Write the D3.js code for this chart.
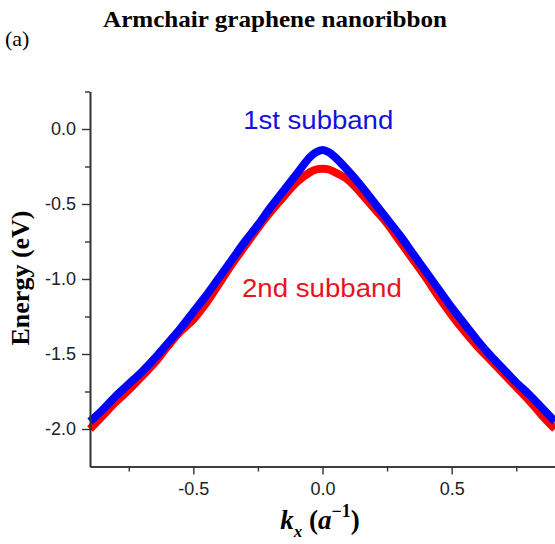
<!DOCTYPE html>
<html>
<head>
<meta charset="utf-8">
<script src="https://cdn.jsdelivr.net/npm/d3@7"></script>
<style>
  html, body { margin: 0; padding: 0; background: #fff; }
  svg { display: block; }
</style>
</head>
<body>
<svg id="chart" width="555" height="544"></svg>
<script>
// ---- data ----
const kValues = [-0.90,-0.85,-0.80,-0.75,-0.70,-0.65,-0.60,-0.55,-0.50,-0.45,-0.40,-0.35,-0.30,-0.25,-0.20,-0.15,-0.10,-0.05,-0.025,0.00,0.025,0.05,0.10,0.15,0.20,0.25,0.30,0.35,0.40,0.45,0.50,0.55,0.60,0.65,0.70,0.75,0.80,0.85,0.90];
const subband1 = [-1.95,-1.87,-1.78,-1.70,-1.62,-1.53,-1.43,-1.33,-1.22,-1.11,-0.99,-0.87,-0.75,-0.64,-0.52,-0.41,-0.30,-0.19,-0.155,-0.14,-0.155,-0.19,-0.28,-0.38,-0.49,-0.60,-0.71,-0.83,-0.95,-1.07,-1.19,-1.30,-1.41,-1.51,-1.60,-1.69,-1.77,-1.86,-1.95];
const subband2 = [-2.00,-1.91,-1.82,-1.74,-1.65,-1.56,-1.45,-1.35,-1.27,-1.16,-1.03,-0.90,-0.78,-0.66,-0.55,-0.45,-0.355,-0.29,-0.27,-0.265,-0.27,-0.29,-0.34,-0.43,-0.53,-0.63,-0.75,-0.87,-0.99,-1.12,-1.24,-1.35,-1.45,-1.54,-1.63,-1.72,-1.81,-1.91,-2.00];
const xMajorTicks = [-0.5, 0.0, 0.5];
const xMinorTicks = [-0.75, -0.25, 0.25, 0.75];
const yMajorTicks = [-2.0, -1.5, -1.0, -0.5, 0.0];
const yMinorTicks = [-1.75, -1.25, -0.75, -0.25, 0.25];
const seriesNames = ["1st subband", "2nd subband"];
const labelPos = [{k: -0.307, E: 0.0}, {k: -0.312, E: -1.118}];

// ---- drawing ----
const svg = d3.select("#chart");
const x = d3.scaleLinear().domain([-0.9, 0.9]).range([90, 555]);
const y = d3.scaleLinear().domain([-2.25, 0.25]).range([466.5, 91.5]);
const axisColor = "#333";
const fmt = d3.format(".1f");

// title & panel label
svg.append("text")
  .attr("x", 275).attr("y", 27)
  .attr("text-anchor", "middle")
  .attr("font-family", "Liberation Serif, Times New Roman, serif")
  .attr("font-weight", "bold").attr("font-size", 24)
  .attr("textLength", 344).attr("lengthAdjust", "spacingAndGlyphs")
  .attr("fill", "#000")
  .text("Armchair graphene nanoribbon");
svg.append("text")
  .attr("x", 5).attr("y", 46)
  .attr("font-family", "Liberation Serif, Times New Roman, serif")
  .attr("font-size", 22).attr("fill", "#000")
  .text("(a)");

// curves
const line = d3.line().x((d, i) => x(kValues[i])).y(d => y(d)).curve(d3.curveCatmullRom.alpha(0.5));
const colors = ["#0000ff", "#ff0000"];
const textColors = ["#1212dc", "#e8141c"];
const plot = svg.append("g");
[[subband2, 1], [subband1, 0]].forEach(([vals, idx]) => {
  plot.append("path")
    .datum(vals)
    .attr("d", line)
    .attr("fill", "none")
    .attr("stroke", colors[idx])
    .attr("stroke-width", 8)
    .attr("stroke-linejoin", "round")
    .attr("stroke-linecap", "butt");
});

// axes
const xAxis = svg.append("g").attr("transform", `translate(0,${y(-2.25)})`)
  .call(d3.axisBottom(x).tickValues(xMajorTicks).tickSize(8).tickPadding(8).tickFormat(fmt).tickSizeOuter(0));
const xMinor = svg.append("g").attr("transform", `translate(0,${y(-2.25)})`)
  .call(d3.axisBottom(x).tickValues(xMinorTicks).tickSize(5).tickFormat("").tickSizeOuter(0));
const yAxis = svg.append("g").attr("transform", `translate(${x(-0.9)},0)`)
  .call(d3.axisLeft(y).tickValues(yMajorTicks).tickSize(8).tickPadding(6).tickFormat(fmt).tickSizeOuter(0));
const yMinor = svg.append("g").attr("transform", `translate(${x(-0.9)},0)`)
  .call(d3.axisLeft(y).tickValues(yMinorTicks).tickSize(5).tickFormat("").tickSizeOuter(0));

[xAxis, xMinor, yAxis, yMinor].forEach(g => {
  g.select(".domain").attr("stroke", axisColor).attr("stroke-width", 1.6);
  g.selectAll(".tick line").attr("stroke", axisColor).attr("stroke-width", 1.4);
  g.selectAll(".tick text")
    .attr("font-family", "Liberation Sans, Arial, sans-serif")
    .attr("font-size", 18).attr("fill", "#222");
});
svg.selectAll(".tick text").text(function() { return d3.select(this).text().replace("\u2212", "-"); });

// series labels
seriesNames.forEach((name, i) => {
  svg.append("text")
    .attr("x", x(labelPos[i].k)).attr("y", y(labelPos[i].E))
    .attr("font-family", "Liberation Sans, Arial, sans-serif")
    .attr("font-size", 25)
    .attr("textLength", i === 0 ? 150 : 160).attr("lengthAdjust", "spacingAndGlyphs")
    .attr("fill", textColors[i])
    .text(name);
});

// axis titles
svg.append("text")
  .attr("transform", "translate(29,278) rotate(-90)")
  .attr("text-anchor", "middle")
  .attr("font-family", "Liberation Serif, Times New Roman, serif")
  .attr("font-weight", "bold").attr("font-size", 26).attr("fill", "#000")
  .text("Energy (eV)");

const xt = svg.append("text")
  .attr("x", 320).attr("y", 529)
  .attr("text-anchor", "middle")
  .attr("font-family", "Liberation Serif, Times New Roman, serif")
  .attr("font-weight", "bold").attr("font-size", 27).attr("fill", "#000");
xt.append("tspan").attr("font-style", "italic").text("k");
xt.append("tspan").attr("font-style", "italic").attr("font-size", 17).attr("dy", 8).text("x");
xt.append("tspan").attr("dy", -8).text(" (");
xt.append("tspan").attr("font-style", "italic").text("a");
xt.append("tspan").attr("font-size", 18).attr("dy", -12).text("\u2212");
xt.append("tspan").attr("font-size", 18).text("1");
xt.append("tspan").attr("dy", 12).text(")");
</script>
</body>
</html>
